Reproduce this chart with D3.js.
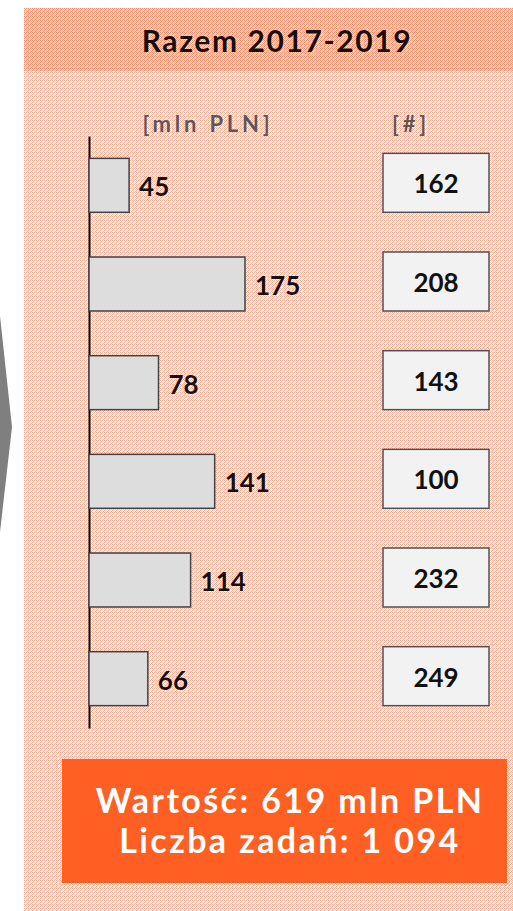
<!DOCTYPE html>
<html>
<head>
<meta charset="utf-8">
<script src="https://cdn.jsdelivr.net/npm/d3@7"></script>
<style>
  body { margin: 0; background: #fff; }
  svg { display: block; font-family: Lato, "Open Sans", sans-serif; }
</style>
</head>
<body>
<div id="chart"></div>
<script>
// data
var rows = ['r1', 'r2', 'r3', 'r4', 'r5', 'r6'];
var values = [45, 175, 78, 141, 114, 66];      // mln PLN
var counts = [162, 208, 143, 100, 232, 249];   // #
var titleText = 'Razem 2017-2019';
var valueHeader = '[mln PLN]';
var countHeader = '[#]';
var summaryLines = ['Wartość: 619 mln PLN', 'Liczba zadań: 1 094'];

var svgWidth = 513;
var svgHeight = 911;

var svg = d3.select('#chart')
    .append('svg')
    .attr('width', svgWidth)
    .attr('height', svgHeight);

// dotted background patterns
var defs = svg.append('defs');
function makePattern(id, bg, dark, light) {
    var p = defs.append('pattern')
        .attr('id', id)
        .attr('width', 4)
        .attr('height', 4)
        .attr('patternUnits', 'userSpaceOnUse');
    p.append('rect').attr('width', 4).attr('height', 4).attr('fill', bg);
    [[0, 0], [2, 0], [0, 2], [1, 1], [3, 3]].forEach(function (c) {
        p.append('rect').attr('x', c[0]).attr('y', c[1]).attr('width', 1).attr('height', 1).attr('fill', dark);
    });
    [[2, 2], [3, 1], [1, 3]].forEach(function (c) {
        p.append('rect').attr('x', c[0]).attr('y', c[1]).attr('width', 1).attr('height', 1).attr('fill', light);
    });
}
makePattern('bodyPat', '#fffaf8', '#f9ae98', '#fdd8cd');
makePattern('headPat', '#fde0d6', '#f7906f', '#fab7a0');

svg.append('rect')
    .attr('x', 24).attr('y', 8)
    .attr('width', svgWidth - 24).attr('height', svgHeight - 8)
    .attr('fill', 'url(#bodyPat)');

svg.append('rect')
    .attr('x', 24).attr('y', 8)
    .attr('width', svgWidth - 24).attr('height', 63)
    .attr('fill', 'url(#headPat)');

// grey chevron on the left edge
svg.append('path')
    .attr('d', 'M0,316 L12,427 L0,532 Z')
    .attr('fill', '#7f7f7f');

// title
svg.append('text')
    .attr('x', 277).attr('y', 52)
    .attr('text-anchor', 'middle')
    .attr('font-size', 30)
    .attr('font-weight', 'bold')
    .attr('letter-spacing', 1.6)
    .attr('fill', '#111')
    .text(titleText);

// column headers
svg.append('text')
    .attr('x', 208).attr('y', 132)
    .attr('text-anchor', 'middle')
    .attr('font-size', 22)
    .attr('font-weight', 'bold')
    .attr('letter-spacing', 3.8)
    .attr('fill', '#595959')
    .text(valueHeader);

svg.append('text')
    .attr('x', 411).attr('y', 132)
    .attr('text-anchor', 'middle')
    .attr('font-size', 22)
    .attr('font-weight', 'bold')
    .attr('letter-spacing', 3.8)
    .attr('fill', '#595959')
    .text(countHeader);

// scales
var yBandScale = d3.scaleBand()
    .domain(rows)
    .range([136, 728])
    .paddingInner(0.453)
    .paddingOuter(0.2265);

var xLinearScale = d3.scaleLinear()
    .domain([0, 175])
    .range([89, 245]);

var leftAxis = d3.axisLeft(yBandScale).tickSize(0).tickSizeOuter(0).tickFormat('');

var axisGroup = svg.append('g')
    .attr('transform', 'translate(89, 0)')
    .call(leftAxis);
axisGroup.select('.domain').attr('stroke', '#000').attr('stroke-width', 2);

// bars
svg.selectAll('.bar')
    .data(values)
    .enter()
    .append('rect')
    .attr('class', 'bar')
    .attr('x', xLinearScale(0))
    .attr('y', (d, i) => yBandScale(rows[i]))
    .attr('width', d => xLinearScale(d) - xLinearScale(0))
    .attr('height', yBandScale.bandwidth())
    .attr('fill', '#dddddd')
    .attr('stroke', '#404040')
    .attr('stroke-width', 1.5);

svg.selectAll('.barLabel')
    .data(values)
    .enter()
    .append('text')
    .attr('class', 'barLabel')
    .attr('x', d => xLinearScale(d) + 10)
    .attr('y', (d, i) => yBandScale(rows[i]) + yBandScale.bandwidth() / 2 + 11)
    .attr('font-size', 26)
    .attr('font-weight', 'bold')
    .attr('fill', '#111')
    .text(d => d);

// count boxes
var boxHeight = 59;
svg.selectAll('.countBox')
    .data(counts)
    .enter()
    .append('rect')
    .attr('class', 'countBox')
    .attr('x', 383)
    .attr('y', (d, i) => yBandScale(rows[i]) + yBandScale.bandwidth() / 2 - boxHeight / 2 - 2.5)
    .attr('width', 106)
    .attr('height', boxHeight)
    .attr('fill', '#f2f2f2')
    .attr('stroke', '#505050')
    .attr('stroke-width', 1.5);

svg.selectAll('.countLabel')
    .data(counts)
    .enter()
    .append('text')
    .attr('class', 'countLabel')
    .attr('x', 436)
    .attr('y', (d, i) => yBandScale(rows[i]) + yBandScale.bandwidth() / 2 + 8)
    .attr('text-anchor', 'middle')
    .attr('font-size', 26)
    .attr('font-weight', 'bold')
    .attr('fill', '#111')
    .text(d => d);

// summary box
svg.append('rect')
    .attr('x', 62).attr('y', 759)
    .attr('width', 445).attr('height', 124)
    .attr('fill', '#ff5f22');

svg.selectAll('.summary')
    .data(summaryLines)
    .enter()
    .append('text')
    .attr('class', 'summary')
    .attr('x', 290)
    .attr('y', (d, i) => 813 + i * 40)
    .attr('text-anchor', 'middle')
    .attr('font-size', 34)
    .attr('font-weight', 'bold')
    .attr('letter-spacing', 2.4)
    .attr('fill', '#fff')
    .text(d => d);
</script>
</body>
</html>
